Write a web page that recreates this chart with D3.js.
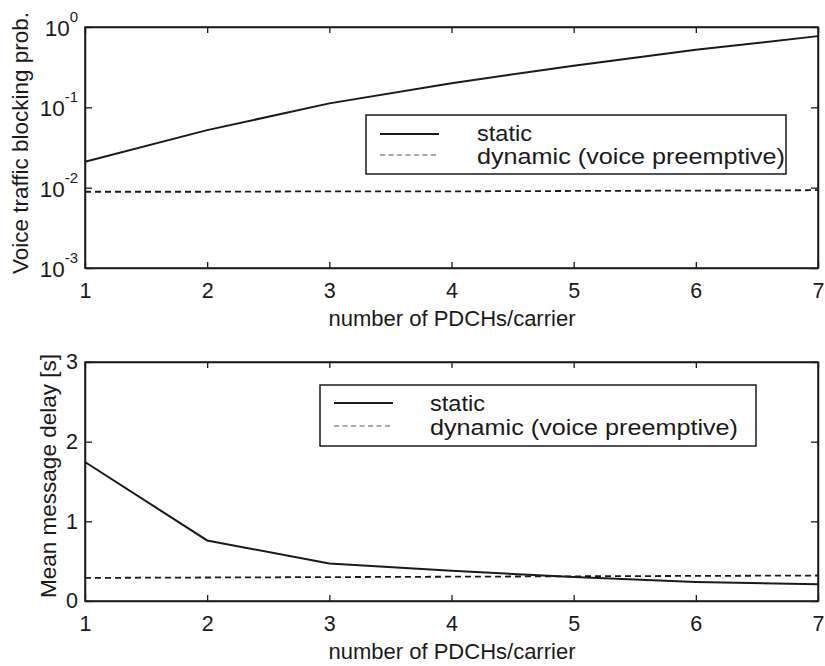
<!DOCTYPE html>
<html>
<head>
<meta charset="utf-8">
<script src="https://cdn.jsdelivr.net/npm/d3@7"></script>
<style>
  body { margin: 0; background: #fff; }
  svg { font-family: "Liberation Sans", Arial, sans-serif; }
</style>
</head>
<body>
<svg id="chart" width="825" height="666"></svg>
<script>
// x values
const pdch = [1, 2, 3, 4, 5, 6, 7];

// top panel: voice blocking probability
const blockStatic  = [0.021, 0.052, 0.112, 0.20, 0.33, 0.52, 0.77];
const blockDynamic = [0.0089, 0.0089, 0.0090, 0.0090, 0.0091, 0.0092, 0.0093];

// bottom panel: mean message delay [s]
const delayStatic  = [1.745, 0.76, 0.47, 0.38, 0.30, 0.24, 0.21];
const delayDynamic = [0.29, 0.295, 0.30, 0.305, 0.31, 0.315, 0.32];

const logTicks = [1e-3, 1e-2, 1e-1, 1];
const logExp = ["-3", "-2", "-1", "0"];
const linTicks = [0, 1, 2, 3];
const legendNames = ["static", "dynamic (voice preemptive)"];

const svg = d3.select("#chart");
const ink = "#1a1a1a";

const x = d3.scaleLinear().domain([1, 7]).range([85, 818]);

function panel(top, bottom, y, opts) {
  const g = svg.append("g");
  // frame
  g.append("rect")
    .attr("x", 85).attr("y", top)
    .attr("width", 818 - 85).attr("height", bottom - top)
    .attr("fill", "none").attr("stroke", ink).attr("stroke-width", 1.5);

  // bottom x axis
  const xa = g.append("g").attr("transform", `translate(0,${bottom})`)
    .call(d3.axisBottom(x).tickValues(pdch).tickSizeInner(-6).tickSizeOuter(0).tickFormat(d3.format("d")));
  xa.selectAll("text").attr("font-size", 21.5).attr("fill", ink).attr("dy", null).attr("y", 30);
  // top mirror ticks
  g.append("g").attr("transform", `translate(0,${top})`)
    .call(d3.axisTop(x).tickValues(pdch).tickSizeInner(-6).tickSizeOuter(0).tickFormat(""));

  // left y axis
  const ya = g.append("g").attr("transform", "translate(85,0)")
    .call(d3.axisLeft(y).tickValues(opts.ticks).tickSizeInner(-7).tickSizeOuter(0).tickPadding(7).tickFormat(opts.fmt || ""));
  ya.selectAll("text").attr("font-size", 21.5).attr("fill", ink);
  // right mirror ticks
  g.append("g").attr("transform", "translate(818,0)")
    .call(d3.axisRight(y).tickValues(opts.ticks).tickSizeInner(-7).tickSizeOuter(0).tickFormat(""));

  g.selectAll(".domain").attr("stroke", ink).attr("stroke-width", 1.5);
  g.selectAll(".tick line").attr("stroke", ink).attr("stroke-width", 1.3);

  // x label
  g.append("text")
    .attr("x", 452).attr("y", bottom + 58)
    .attr("text-anchor", "middle").attr("font-size", 22).attr("fill", ink)
    .text("number of PDCHs/carrier");

  // y label
  g.append("text")
    .attr("transform", `translate(${opts.labelX},${opts.labelY}) rotate(-90)`)
    .attr("text-anchor", "middle").attr("font-size", 22.5).attr("fill", ink)
    .text(opts.ylabel);

  const line = d3.line().x((d, i) => x(pdch[i])).y(d => y(d));
  g.append("path").datum(opts.s1)
    .attr("d", line).attr("fill", "none").attr("stroke", ink).attr("stroke-width", 2);
  g.append("path").datum(opts.s2)
    .attr("d", line).attr("fill", "none").attr("stroke", ink).attr("stroke-width", 1.8)
    .attr("stroke-dasharray", "6,4");

  // legend
  const L = opts.legend;
  const lens = [55, 308];
  g.append("rect")
    .attr("x", L.x0).attr("y", L.y0).attr("width", L.x1 - L.x0).attr("height", L.y1 - L.y0)
    .attr("fill", "#fff").attr("stroke", ink).attr("stroke-width", 1.5);
  [0, 1].forEach(i => {
    const ly = L.rows[i];
    g.append("line")
      .attr("x1", L.lx0).attr("x2", L.lx1).attr("y1", ly).attr("y2", ly)
      .attr("stroke", i === 0 ? ink : "#555")
      .attr("stroke-width", i === 0 ? 2 : 1.2)
      .attr("stroke-dasharray", i === 0 ? null : "5,3.5");
    g.append("text")
      .attr("x", L.tx).attr("y", L.base[i])
      .attr("font-size", 21.5).attr("fill", ink)
      .attr("textLength", lens[i]).attr("lengthAdjust", "spacingAndGlyphs")
      .text(legendNames[i]);
  });
  return g;
}

// top panel (log scale)
const yTop = d3.scaleLog().domain([1e-3, 1]).range([268, 27]);
const gTop = panel(27, 268, yTop, {
  ticks: logTicks,
  fmt: "",
  ylabel: "Voice traffic blocking prob.",
  labelX: 28, labelY: 143,
  s1: blockStatic, s2: blockDynamic,
  legend: { x0: 366, x1: 786, y0: 115, y1: 174, rows: [134, 155], base: [141, 164], lx0: 380, lx1: 439, tx: 477 }
});
// superscript labels for log ticks
logTicks.forEach((v, i) => {
  const t = gTop.append("text")
    .attr("x", 78).attr("y", yTop(v) + 9)
    .attr("text-anchor", "end").attr("font-size", 22.5).attr("fill", ink);
  t.append("tspan").text("10");
  t.append("tspan").attr("dy", -14).attr("font-size", 15).text(logExp[i]);
});

// bottom panel (linear)
const yBot = d3.scaleLinear().domain([0, 3]).range([601, 362]);
panel(362, 601, yBot, {
  ticks: linTicks,
  fmt: d3.format("d"),
  ylabel: "Mean message delay [s]",
  labelX: 56, labelY: 476,
  s1: delayStatic, s2: delayDynamic,
  legend: { x0: 320, x1: 756, y0: 385, y1: 446, rows: [403, 426], base: [411, 435], lx0: 334, lx1: 393, tx: 430 }
});
</script>
</body>
</html>
